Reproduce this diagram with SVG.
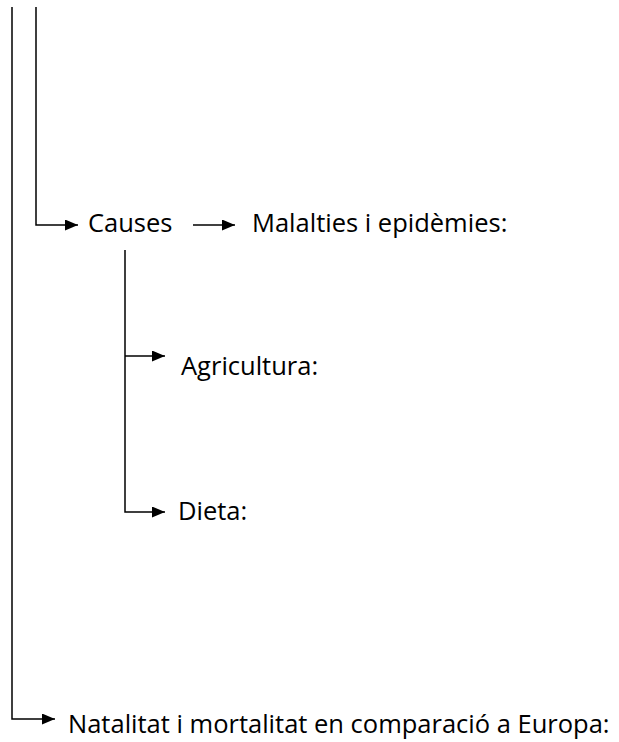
<svg xmlns="http://www.w3.org/2000/svg" width="619" height="742" viewBox="0 0 619 742">
<style>
.c{fill:none;stroke:#000;stroke-width:1.5}
.t{font-family:"Open Sans","Liberation Sans",sans-serif;font-size:25.5px;fill:#000}
</style>
<defs>
<marker id="ah" markerUnits="userSpaceOnUse" markerWidth="13" markerHeight="11" refX="13" refY="5.5" orient="auto">
<path d="M0,0 L13,5.5 L0,11 z" fill="#000"/>
</marker>
</defs>
<rect width="619" height="742" fill="#fff"/>
<g id="connectors">
<path class="c" d="M12,7 V719 H55" marker-end="url(#ah)"/>
<path class="c" d="M36,7 V225 H78" marker-end="url(#ah)"/>
<path class="c" d="M193,225 H235" marker-end="url(#ah)"/>
<path class="c" d="M125,250 V512 H165" marker-end="url(#ah)"/>
<path class="c" d="M125,356 H165" marker-end="url(#ah)"/>
</g>
<g id="causes"><text class="t" x="88" y="232">Causes</text></g>
<g id="malalties"><text class="t" x="252" y="232">Malalties i epidèmies:</text></g>
<g id="agricultura"><text class="t" x="181" y="375">Agricultura:</text></g>
<g id="dieta"><text class="t" x="178" y="520">Dieta:</text></g>
<g id="natalitat"><text class="t" x="68" y="733">Natalitat i mortalitat en comparació a Europa:</text></g>
</svg>
